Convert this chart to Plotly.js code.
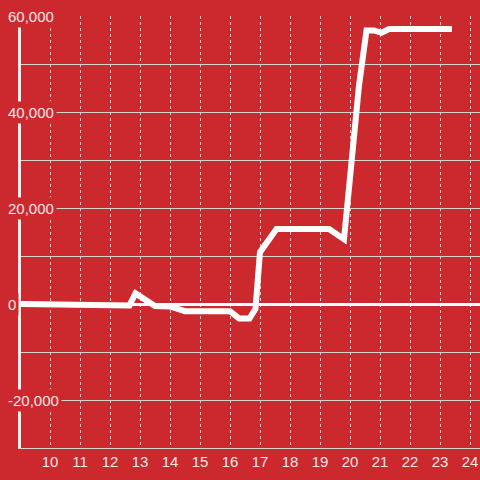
<!DOCTYPE html>
<html>
<head>
<meta charset="utf-8">
<script src="https://cdn.plot.ly/plotly-3.0.1.min.js"></script>
<style>html,body{margin:0;padding:0;background:#cc292e;}#chart{width:480px;height:480px;}</style>
</head>
<body>
<div id="chart"></div>
<script>
var xValues = [9.0, 12.5, 12.65, 12.85, 13.5, 14.0, 14.5, 16.0, 16.3, 16.65, 16.85, 17.0, 17.55, 19.3, 19.8, 20.3, 20.55, 20.8, 21.05, 21.3, 23.4];
var yValues = [0, 0, -300, 2200, -400, -500, -1500, -1500, -3000, -3000, -1000, 10800, 15600, 15600, 13500, 45500, 57000, 57000, 56500, 57300, 57300];
var yTickValues = [60000, 40000, 20000, 0, -20000];
var yTickLabels = ['60,000', '40,000', '20,000', '0', '-20,000'];
var xTickValues = [10, 11, 12, 13, 14, 15, 16, 17, 18, 19, 20, 21, 22, 23, 24];

var bg = '#cc292e';
var textColor = '#f6e6e6';
var gridColor = '#d4d4d4';

var annotations = yTickValues.map(function (v, i) {
  return {
    xref: 'paper', yref: 'y', x: -0.035, y: v,
    xanchor: 'left', yanchor: 'middle',
    text: yTickLabels[i], showarrow: false,
    bgcolor: bg, borderpad: 2,
    font: {family: 'Liberation Sans, Arial, sans-serif', size: 15, color: textColor}
  };
});

var trace = {
  x: xValues, y: yValues, type: 'scatter', mode: 'lines',
  line: {color: '#ffffff', width: 6},
  hoverinfo: 'skip', cliponaxis: true
};

var layout = {
  width: 480, height: 480,
  margin: {l: 21, r: 0, t: 16, b: 32},
  paper_bgcolor: bg, plot_bgcolor: bg,
  showlegend: false,
  xaxis: {
    range: [9.0333, 24.3333], tickvals: xTickValues,
    ticktext: xTickValues.map(String),
    showgrid: true, gridcolor: gridColor, gridwidth: 1, griddash: 'dot',
    zeroline: false, showline: true, linecolor: gridColor, linewidth: 1,
    ticks: '',
    tickfont: {family: 'Liberation Sans, Arial, sans-serif', size: 15, color: textColor}
  },
  yaxis: {
    range: [-30000, 60000], dtick: 10000, tick0: 0,
    showgrid: true, gridcolor: gridColor, gridwidth: 1,
    zeroline: true, zerolinecolor: '#ffffff', zerolinewidth: 3,
    showline: true, linecolor: '#f2f2f2', linewidth: 3,
    showticklabels: false, ticks: ''
  },
  annotations: annotations
};

Plotly.newPlot('chart', [trace], layout, {displayModeBar: false, staticPlot: true});
</script>
</body>
</html>
